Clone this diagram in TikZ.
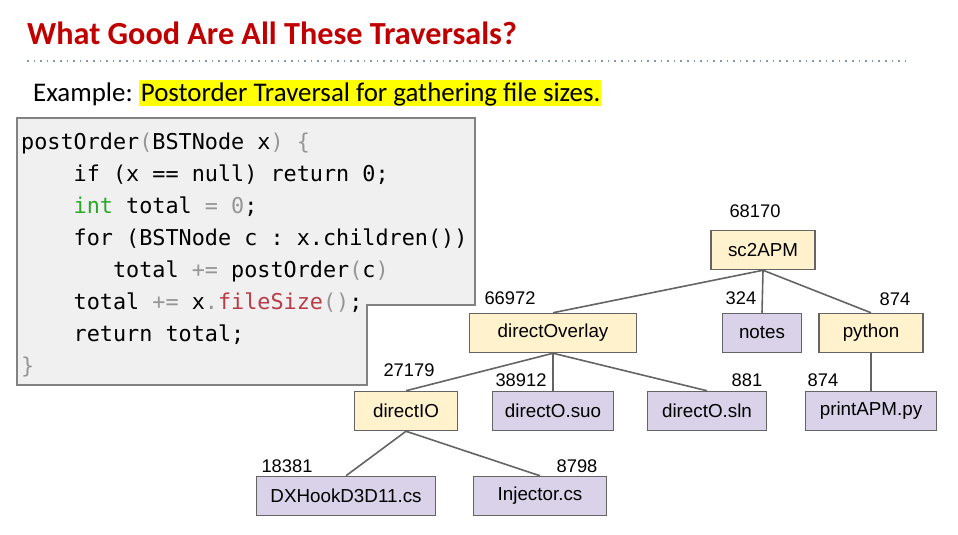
\documentclass[tikz,border=0pt]{standalone}
\usepackage{fontspec}
\setmainfont{Carlito}
\setmonofont{DejaVu Sans Mono}
\newfontfamily\arialfont{Liberation Sans}
\usetikzlibrary{positioning}
\definecolor{titlered}{RGB}{192,0,0}
\definecolor{dotblue}{RGB}{130,150,180}
\definecolor{hilite}{RGB}{255,255,0}
\definecolor{codebg}{RGB}{240,240,240}
\definecolor{codeline}{RGB}{130,130,130}
\definecolor{punct}{RGB}{150,150,150}
\definecolor{codegreen}{RGB}{40,170,40}
\definecolor{codered}{RGB}{185,60,70}
\definecolor{dirfill}{RGB}{255,242,204}
\definecolor{filefill}{RGB}{217,210,233}
\definecolor{boxline}{RGB}{100,100,100}
\newcommand\pc[1]{\textcolor{punct}{#1}}
\newcommand\pad[1]{\hspace*{#1\fontcharwd\font`\0}}
\tikzset{
 dirbox/.style = {rectangle, draw=boxline, fill=dirfill, line width=1.5pt,
           minimum height=39, inner sep=0,
           font=\arialfont\fontsize{18.8}{18.8}\selectfont},
 filebox/.style = {dirbox, fill=filefill},
 sizelbl/.style = {inner sep=0, font=\arialfont\fontsize{18.3}{18.3}\selectfont},
 link/.style = {draw=boxline, line width=1.6pt}
}

\begin{document}
\begin{tikzpicture}[x=1pt,y=-1pt]
  \useasboundingbox (0,0) rectangle (958,535);

  % Heading
  \node[anchor=base west, inner sep=0, text=titlered,
    font=\bfseries\fontsize{32.2}{32.2}\selectfont] (title) at (27,45)
  {What Good Are All These Traversals?};
  \draw[dotblue, line width=1.6pt, dash pattern=on 1.6pt off 5pt]
  (27,61) -- (908,61);

  % Example line
  \fill[hilite] (139,80) rectangle (601,106);
  \node[anchor=base west, inner sep=0, font=\fontsize{26.9}{26.9}\selectfont]
  (example) at (33,101) {Example: Postorder Traversal for gathering file sizes.};

  % Code box
  \draw[fill=codebg, draw=codeline, line width=1.2pt]
  (17,118) -- (475,118) -- (475,305) -- (367,305) -- (367,385)
  -- (17,385) -- cycle;
  \node[anchor=base west, align=left, inner sep=0,
    font=\ttfamily\fontsize{21.8}{32}\selectfont] (code) at (21,373)
  {postOrder\pc{(}BSTNode x\pc{)} \pc{\{}\\
    \pad{4}if (x == null) return 0;\\
    \pad{4}\textcolor{codegreen}{int} total \pc{=} \pc{0};\\
    \pad{4}for (BSTNode c : x.children())\\
    \pad{7}total \pc{+=} postOrder\pc{(}c\pc{)}\\
    \pad{4}total \pc{+=} x\pc{.}\textcolor{codered}{fileSize}\pc{()};\\
    \pad{4}return total;\\
    \pc{\}}};

  % Level 0
  \node[dirbox, minimum width=104] (sc2apm) at (763,250) {sc2APM};

  % Level 1
  \node[dirbox, minimum width=167] (overlay) at (553,333) {directOverlay};
  \node[filebox, minimum width=79] (notes) at (762,333) {notes};
  \node[dirbox, minimum width=104] (python) at (871,333) {python};

  % Level 2
  \node[dirbox, minimum width=103] (dirio) at (406,411) {directIO};
  \node[filebox, minimum width=121] (suo) at (553,411) {directO.suo};
  \node[filebox, minimum width=119] (sln) at (707,411) {directO.sln};
  \node[filebox, minimum width=131] (printpy) at (871,411) {printAPM.py};

  % Level 3
  \node[filebox, minimum width=179] (dxhook) at (346,496) {DXHookD3D11.cs};
  \node[filebox, minimum width=133] (injector) at (540,496) {Injector.cs};

  % Edges
  \draw[link] (sc2apm.south) -- (overlay.north);
  \draw[link] (sc2apm.south) -- (notes.north);
  \draw[link] (sc2apm.south) -- (python.north);
  \draw[link] (overlay.south) -- (dirio.north);
  \draw[link] (overlay.south) -- (suo.north);
  \draw[link] (overlay.south) -- (sln.north);
  \draw[link] (python.south) -- (printpy.north);
  \draw[link] (dirio.south) -- (dxhook.north);
  \draw[link] (dirio.south) -- (injector.north);

  % Sizes
  \node[sizelbl] (s-sc2apm) at (755,211) {68170};
  \node[sizelbl] (s-overlay) at (510,298) {66972};
  \node[sizelbl] (s-notes) at (741,298) {324};
  \node[sizelbl] (s-python) at (895,299) {874};
  \node[sizelbl] (s-dirio) at (409,370) {27179};
  \node[sizelbl] (s-suo) at (521,380) {38912};
  \node[sizelbl] (s-sln) at (747,380) {881};
  \node[sizelbl] (s-printpy) at (823,380) {874};
  \node[sizelbl] (s-dxhook) at (287,466) {18381};
  \node[sizelbl] (s-injector) at (577,466) {8798};
\end{tikzpicture}
\end{document}
